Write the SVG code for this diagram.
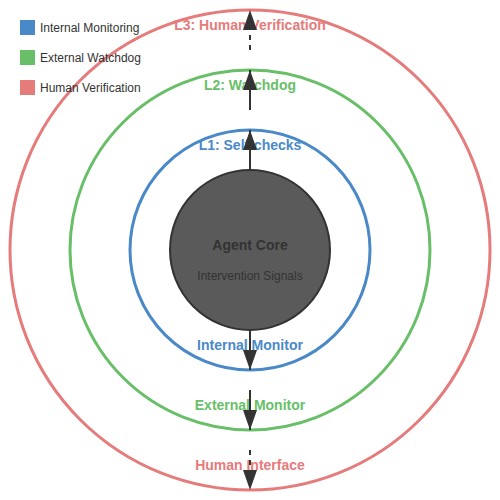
<svg xmlns="http://www.w3.org/2000/svg" width="500" height="500" viewBox="0 0 500 500">
<style>
.ring{fill:none;stroke-width:3}
.lbl{font-family:"Liberation Sans",Arial,sans-serif;font-size:14px;font-weight:bold;text-anchor:middle}
.leg{font-family:"Liberation Sans",Arial,sans-serif;font-size:12px;fill:#333}
.arr{stroke:#333;stroke-width:2;fill:none}
.dash{stroke-dasharray:5,5}
</style>
<defs>
<marker id="ah" markerWidth="10" markerHeight="7" refX="10" refY="3.5" orient="auto" viewBox="0 0 10 7">
<path d="M0,0 L10,3.5 L0,7 Z" fill="#333"/>
</marker>
</defs>
<rect width="500" height="500" fill="#fff"/>
<g id="ring-l3">
<circle class="ring" cx="250" cy="250" r="240" stroke="#e57b7b"/>
<text class="lbl" x="250" y="30" fill="#e57b7b">L3: Human Verification</text>
<text class="lbl" x="250" y="470" fill="#e57b7b">Human Interface</text>
</g>
<g id="ring-l2">
<circle class="ring" cx="250" cy="250" r="180" stroke="#68bf68"/>
<text class="lbl" x="250" y="90" fill="#68bf68">L2: Watchdog</text>
<text class="lbl" x="250" y="410" fill="#68bf68">External Monitor</text>
</g>
<g id="ring-l1">
<circle class="ring" cx="250" cy="250" r="120" stroke="#4a89c8"/>
<text class="lbl" x="250" y="150" fill="#4a89c8">L1: Self-checks</text>
<text class="lbl" x="250" y="350" fill="#4a89c8">Internal Monitor</text>
</g>
<g id="core">
<circle cx="250" cy="250" r="80" fill="#5a5a5a" stroke="#333" stroke-width="2"/>
<text class="lbl" x="250" y="250" fill="#333">Agent Core</text>
<text x="250" y="280" font-family="Liberation Sans,Arial,sans-serif" font-size="12" fill="#333" text-anchor="middle">Intervention Signals</text>
</g>
<g id="connectors">
<line class="arr" x1="250" y1="170" x2="250" y2="130" marker-end="url(#ah)"/>
<line class="arr" x1="250" y1="110" x2="250" y2="70" marker-end="url(#ah)"/>
<line class="arr dash" x1="250" y1="50" x2="250" y2="10" marker-end="url(#ah)"/>
<line class="arr" x1="250" y1="330" x2="250" y2="370" marker-end="url(#ah)"/>
<line class="arr" x1="250" y1="390" x2="250" y2="430" marker-end="url(#ah)"/>
<line class="arr dash" x1="250" y1="450" x2="250" y2="490" marker-end="url(#ah)"/>
</g>
<g id="legend">
<rect x="20" y="20" width="15" height="15" fill="#4a89c8"/>
<text class="leg" x="40" y="32">Internal Monitoring</text>
<rect x="20" y="50" width="15" height="15" fill="#68bf68"/>
<text class="leg" x="40" y="62">External Watchdog</text>
<rect x="20" y="80" width="15" height="15" fill="#e57b7b"/>
<text class="leg" x="40" y="92">Human Verification</text>
</g>
</svg>
